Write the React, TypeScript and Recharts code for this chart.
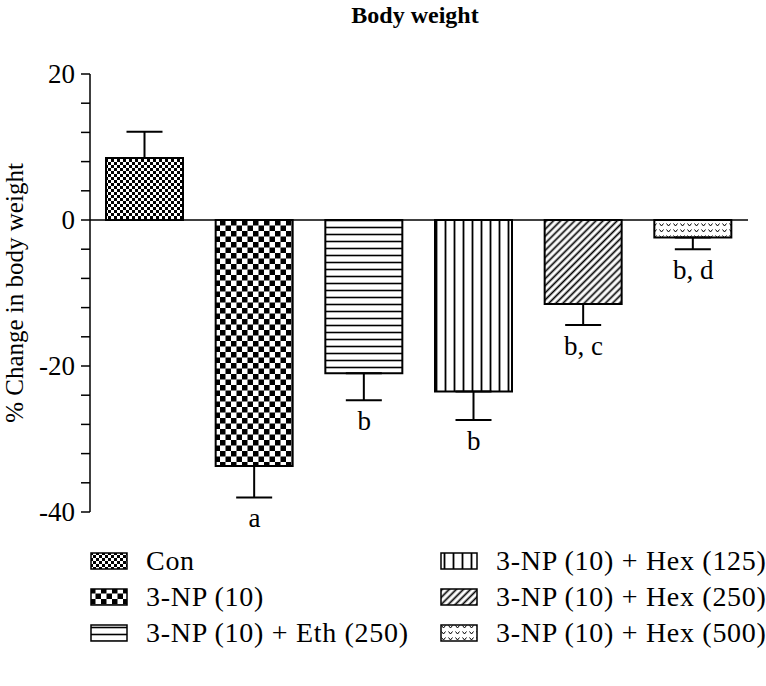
import { Bar, Cell, ComposedChart, ErrorBar, ReferenceLine, Scatter, XAxis, YAxis } from "recharts";

const categories = [
  "Con",
  "3-NP (10)",
  "3-NP (10) + Eth (250)",
  "3-NP (10) + Hex (125)",
  "3-NP (10) + Hex (250)",
  "3-NP (10) + Hex (500)"
];
const means = [8.5, -33.7, -21.0, -23.5, -11.5, -2.4];
const sems = [3.6, 4.3, 3.7, 3.9, 2.9, 1.6];
const letters = ["", "a", "b", "b", "b, c", "b, d"];
const yTicks = [20, 16, 12, 8, 4, 0, -4, -8, -12, -16, -20, -24, -28, -32, -36, -40];
const patternIds = ["pCon", "pNp", "pEth", "pHex125", "pHex250", "pHex500"];

const FONT = "'Liberation Serif', 'Times New Roman', serif";

const rows = categories.map((name, i) => ({
  name,
  mean: means[i],
  err: means[i] >= 0 ? [0, sems[i]] : [sems[i], 0],
  lo: letters[i] ? means[i] - sems[i] : null,
  letter: letters[i]
}));

function Patterns() {
  return (
    <svg width={0} height={0} style={{ position: "absolute" }}>
      <defs>
        <pattern id="pCon" width={6} height={6} patternUnits="userSpaceOnUse">
          <rect width={6} height={6} fill="#fff" />
          <rect x={0} y={0} width={3} height={3} fill="#000" />
          <rect x={3} y={3} width={3} height={3} fill="#000" />
        </pattern>
        <pattern id="pNp" width={11} height={11} patternUnits="userSpaceOnUse">
          <rect width={11} height={11} fill="#fff" />
          <rect x={0} y={0} width={5.5} height={5.5} fill="#000" />
          <rect x={5.5} y={5.5} width={5.5} height={5.5} fill="#000" />
        </pattern>
        <pattern id="pEth" width={10} height={7} patternUnits="userSpaceOnUse">
          <rect width={10} height={7} fill="#fff" />
          <line x1={0} x2={10} y1={3.5} y2={3.5} stroke="#000" strokeWidth={1.6} />
        </pattern>
        <pattern id="pHex125" width={9} height={10} patternUnits="userSpaceOnUse">
          <rect width={9} height={10} fill="#fff" />
          <line x1={4.5} x2={4.5} y1={0} y2={10} stroke="#000" strokeWidth={1.8} />
        </pattern>
        <pattern id="pHex250" width={5} height={5} patternUnits="userSpaceOnUse" patternTransform="rotate(45)">
          <rect width={5} height={5} fill="#fff" />
          <line x1={2.5} x2={2.5} y1={0} y2={5} stroke="#000" strokeWidth={1.7} />
        </pattern>
        <pattern id="pHex500" width={7} height={6} patternUnits="userSpaceOnUse">
          <rect width={7} height={6} fill="#fff" />
          <path d="M1.5 1.5 L3.5 4 L5.5 1.5" fill="none" stroke="#000" strokeWidth={1} />
        </pattern>
      </defs>
    </svg>
  );
}

function YTick(props: any) {
  const { x, y, payload } = props;
  if (payload.value % 20 !== 0) return null;
  return (
    <text x={x - 4} y={y} dy={9} textAnchor="end" fontFamily={FONT} fontSize={27} fill="#000">
      {payload.value}
    </text>
  );
}

function LetterShape(props: any) {
  const { cx, cy, payload } = props;
  if (!payload.letter) return null;
  return (
    <text x={cx} y={cy + 30} textAnchor="middle" fontFamily={FONT} fontSize={27} fill="#000">
      {payload.letter}
    </text>
  );
}

const legendCols = [
  [0, 1, 2],
  [3, 4, 5]
];

export default function App() {
  return (
    <div style={{ position: "absolute", left: 0, top: 0, width: 766, height: 686, background: "#fff", fontFamily: FONT }}>
      <Patterns />
      <div
        style={{ position: "absolute", left: 0, top: 0, width: 766, textAlign: "center", paddingLeft: 64, boxSizing: "border-box", fontSize: 24, fontWeight: "bold", lineHeight: "30px" }}
      >
        Body weight
      </div>
      <ComposedChart width={766} height={686} data={rows} margin={{ top: 74, right: 18, bottom: 174, left: 0 }}>
        <XAxis dataKey="name" hide />
        <YAxis
          width={90}
          domain={[-40, 20]}
          ticks={yTicks}
          interval={0}
          tick={<YTick />}
          tickSize={9}
          stroke="#000"
          strokeWidth={1.5}
          label={{
            value: "% Change in body weight",
            angle: -90,
            position: "insideLeft",
            dx: 9,
            style: { fontFamily: FONT, fontSize: 25, fill: "#000", textAnchor: "middle" }
          }}
        />
        <ReferenceLine y={0} stroke="#000" strokeWidth={1.5} />
        <Bar dataKey="mean" barSize={77} stroke="#000" strokeWidth={2} isAnimationActive={false}>
          {rows.map((_, i) => (
            <Cell key={i} fill={`url(#${patternIds[i]})`} />
          ))}
          <ErrorBar dataKey="err" width={18} stroke="#000" strokeWidth={2} direction="y" />
        </Bar>
        <Scatter dataKey="lo" shape={<LetterShape />} isAnimationActive={false} />
      </ComposedChart>
      {legendCols.map((col, c) => (
        <div key={c} style={{ position: "absolute", left: c === 0 ? 90 : 440, top: 543 }}>
          {col.map((i) => (
            <div key={i} style={{ display: "flex", alignItems: "center", height: 36, fontSize: 28, letterSpacing: 0.7, whiteSpace: "nowrap" }}>
              <svg width={38} height={18} style={{ marginRight: 18 }}>
                <rect x={1} y={1} width={36} height={16} fill={`url(#${patternIds[i]})`} stroke="#000" strokeWidth={1.5} />
              </svg>
              <span>{categories[i]}</span>
            </div>
          ))}
        </div>
      ))}
    </div>
  );
}
